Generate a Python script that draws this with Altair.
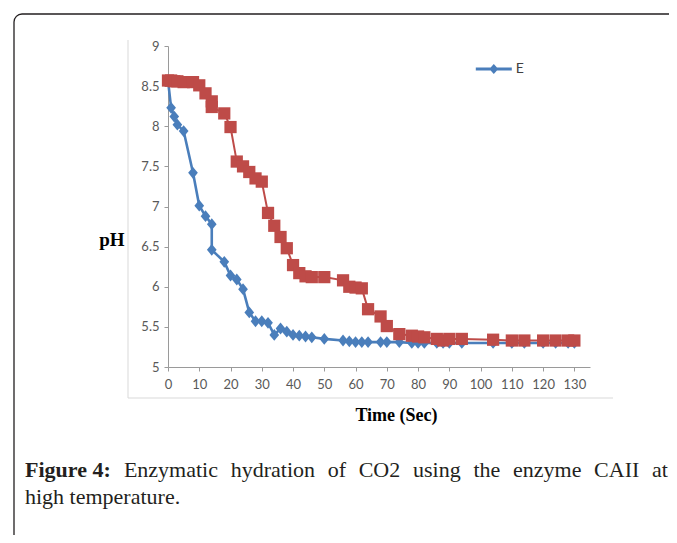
import altair as alt
import pandas as pd

# ---- data ----
times = [0, 1, 2, 3, 5, 8, 10, 12, 14, 14, 18, 20, 22, 24, 26, 28, 30, 32, 34, 36,
         38, 40, 42, 44, 46, 50, 56, 58, 60, 62, 64, 68, 70, 74, 78, 80, 82, 86, 88,
         90, 94, 104, 110, 114, 120, 124, 128, 130]
ph_e = [8.57, 8.23, 8.12, 8.02, 7.94, 7.42, 7.01, 6.88, 6.78, 6.46, 6.31, 6.14, 6.09,
        5.97, 5.68, 5.57, 5.57, 5.55, 5.40, 5.48, 5.44, 5.40, 5.39, 5.38, 5.37, 5.35,
        5.33, 5.32, 5.31, 5.31, 5.31, 5.31, 5.31, 5.31, 5.30, 5.30, 5.30, 5.30, 5.30,
        5.30, 5.30, 5.30, 5.30, 5.30, 5.30, 5.30, 5.30, 5.30]
ph_s = [8.57, 8.57, 8.56, 8.56, 8.55, 8.55, 8.51, 8.41, 8.31, 8.24, 8.16, 7.99, 7.56,
        7.50, 7.43, 7.35, 7.31, 6.92, 6.76, 6.62, 6.48, 6.27, 6.17, 6.13, 6.12, 6.12,
        6.08, 6.00, 5.99, 5.98, 5.72, 5.63, 5.51, 5.41, 5.39, 5.38, 5.37, 5.35, 5.33,
        5.35, 5.35, 5.34, 5.33, 5.33, 5.33, 5.33, 5.33, 5.33]
x_ticks = list(range(0, 131, 10))
y_ticks = [5, 5.5, 6, 6.5, 7, 7.5, 8, 8.5, 9]

caption_line1 = ["Figure 4:", "Enzymatic", "hydration", "of", "CO2", "using", "the",
                 "enzyme", "CAII", "at"]
caption_line2 = "high temperature."

# ---- layout / style ----
BLUE = "#4a7ebb"
RED = "#be4b48"
W, H = 422, 321
PL, PT = 160, 38
TOTAL_W, TOTAL_H = 661, 527
OX, OY = PL + 8, PT + 8  # page position of plot origin
word_left = [25, 123.9, 230.7, 327.7, 358.7, 413.0, 473.4, 513.0, 594.1, 652.0]
DIAMOND = "M0,-1L0.82,0L0,1L-0.82,0Z"
LEG_SYM = "M-1,-0.085L1,-0.085L1,0.085L-1,0.085Z M0,-0.28L0.25,0L0,0.28L-0.25,0Z"

n = len(times)
df = pd.DataFrame({
    "t": times * 2,
    "pH": ph_e + ph_s,
    "series": ["E"] * n + ["S"] * n,
    "idx": list(range(n)) * 2,
})
one = pd.DataFrame({"a": [0]})

x = alt.X("t:Q", scale=alt.Scale(domain=[0, 135], nice=False, zero=False),
          axis=alt.Axis(values=x_ticks, format="d", grid=False, tickSize=4,
                        tickColor="#9a9a9a", domainColor="#9a9a9a",
                        labelFont="Lato", labelFontSize=13, labelColor="#595959",
                        labelPadding=7, labelFlush=False, labelOverlap=False,
                        title="Time (Sec)", titleFont="Liberation Serif",
                        titleFontSize=18, titleFontWeight="bold", titleColor="#000000",
                        titleX=228, titleY=53, titleBaseline="alphabetic"))
y = alt.Y("pH:Q", scale=alt.Scale(domain=[5, 9], nice=False, zero=False),
          axis=alt.Axis(values=y_ticks, format="~g", grid=False, tickSize=4,
                        tickColor="#9a9a9a", domainColor="#9a9a9a",
                        labelFont="Lato", labelFontSize=13, labelColor="#595959",
                        labelPadding=5, labelFlush=False, labelOverlap=False,
                        title="pH", titleFont="Liberation Serif", titleFontSize=19,
                        titleFontWeight="bold", titleColor="#000000", titleAngle=0,
                        titleX=-44, titleY=199, titleAlign="right",
                        titleBaseline="alphabetic"))

base = alt.Chart(df)
blue = base.transform_filter("datum.series == 'E'")
red = base.transform_filter("datum.series == 'S'")

blue_line = blue.mark_line(color=BLUE, strokeWidth=2.6).encode(x=x, y=y, order="idx:Q")
blue_pts = blue.mark_point(shape=DIAMOND, size=140, filled=True, opacity=1).encode(
    x=x, y=y,
    color=alt.Color("series:N", scale=alt.Scale(domain=["E"], range=[BLUE]),
                    legend=alt.Legend(title=None, orient="none", legendX=307.8,
                                      legendY=5, symbolType=LEG_SYM, symbolSize=1296,
                                      symbolStrokeWidth=0, symbolOpacity=1,
                                      labelFont="Lato", labelFontSize=14,
                                      labelColor="#404040", labelOffset=4, padding=0)))
red_line = red.mark_line(color=RED, strokeWidth=2).encode(x=x, y=y, order="idx:Q")
red_pts = red.mark_point(shape="square", size=150, filled=True, color=RED,
                         opacity=1).encode(x=x, y=y)

deco = alt.Chart(one)
outer = deco.mark_rect(fill="transparent", stroke="#231f20", strokeWidth=1.3,
                       cornerRadius=8).encode(
    x=alt.value(14 - OX), x2=alt.value(760), y=alt.value(14 - OY), y2=alt.value(640))
frame_left = deco.mark_rule(color="#d9d9d9").encode(
    x=alt.value(128 - OX), y=alt.value(40 - OY), y2=alt.value(398 - OY))
frame_bottom = deco.mark_rule(color="#d9d9d9").encode(
    x=alt.value(128 - OX), x2=alt.value(613 - OX), y=alt.value(398 - OY))

texts = []
for word, left in zip(caption_line1, word_left):
    texts.append(deco.mark_text(text=word, align="left", baseline="alphabetic",
                                font="Liberation Serif", fontSize=22,
                                fontWeight="bold" if word == "Figure 4:" else "normal",
                                color="#231f20").encode(
        x=alt.value(left - OX), y=alt.value(477 - OY)))
texts.append(deco.mark_text(text=caption_line2, align="left", baseline="alphabetic",
                            font="Liberation Serif", fontSize=22,
                            color="#231f20").encode(
    x=alt.value(25 - OX), y=alt.value(504 - OY)))

chart = alt.layer(outer, frame_left, frame_bottom, blue_line, blue_pts, red_line,
                  red_pts, *texts).properties(
    width=W, height=H,
    padding={"left": PL, "top": PT, "right": TOTAL_W - PL - W,
             "bottom": TOTAL_H - PT - H},
    autosize=alt.AutoSizeParams(type="none"),
    background="white",
).configure_view(stroke=None)

chart.save("out.html", embed_options={"renderer": "svg", "actions": False})
